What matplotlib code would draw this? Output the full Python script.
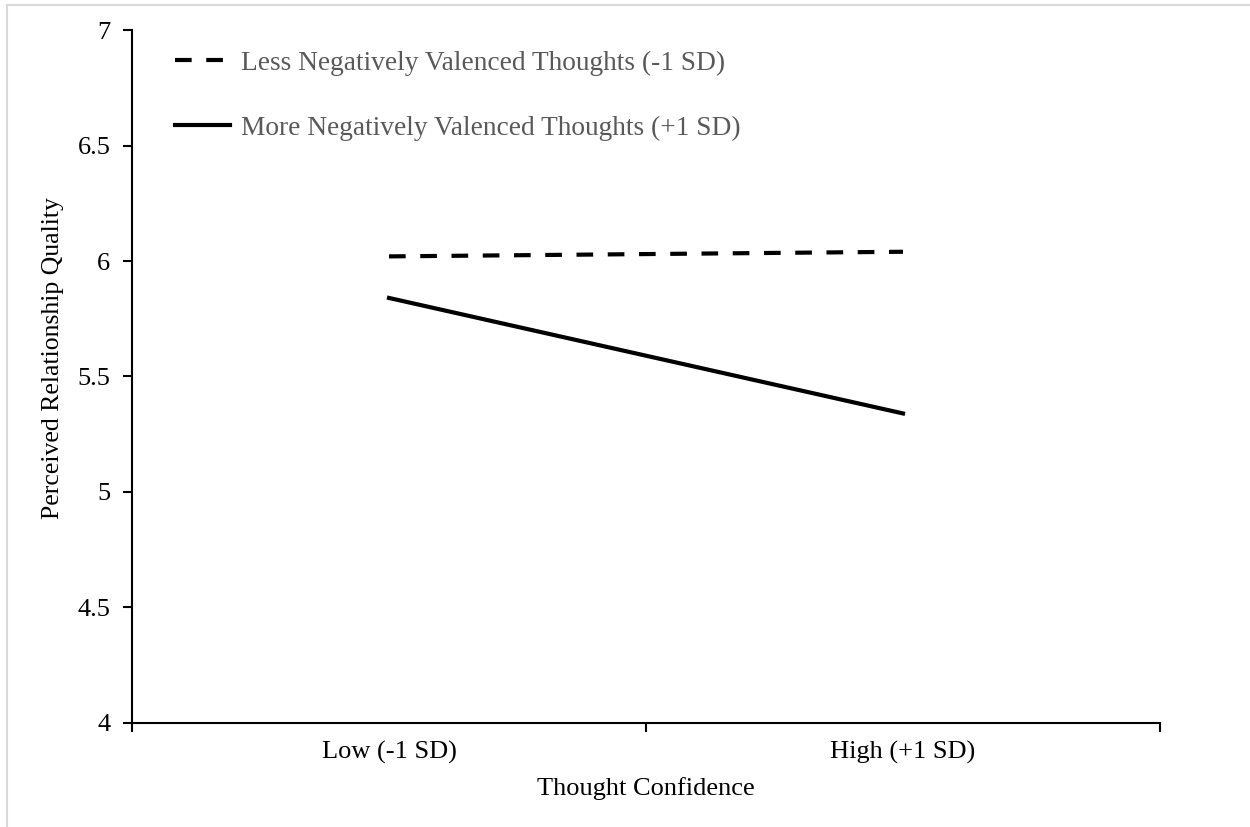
import numpy as np
import matplotlib.pyplot as plt
from matplotlib.lines import Line2D

plt.rcParams['font.family'] = ['Liberation Serif', 'DejaVu Serif']

# data
categories = ["Low (-1 SD)", "High (+1 SD)"]
less_negative = [6.02, 6.04]
more_negative = [5.84, 5.34]
series_labels = ["Less Negatively Valenced Thoughts (-1 SD)",
                 "More Negatively Valenced Thoughts (+1 SD)"]
y_ticks = [4, 4.5, 5, 5.5, 6, 6.5, 7]
y_ticklabels = ["4", "4.5", "5", "5.5", "6", "6.5", "7"]

fig = plt.figure(figsize=(12.5, 8.27), dpi=100)
ax = fig.add_axes([0.1056, 0.1258, 0.8224, 0.8379])

xpos = np.arange(len(categories)) + 0.5
ax.plot(xpos, less_negative, color="black", lw=3, linestyle=(0, (4, 3.5)),
        label=series_labels[0])
ax.plot(xpos, more_negative, color="black", lw=3, linestyle="-",
        label=series_labels[1])

ax.set_xlim(0, len(categories))
ax.set_ylim(4, 7)
ax.set_yticks(y_ticks)
ax.set_yticklabels(y_ticklabels)
ax.set_xticks(np.arange(len(categories) + 1))
ax.set_xticklabels([])
ax.set_xticks(xpos, minor=True)
ax.set_xticklabels(categories, minor=True)

ax.tick_params(axis="both", which="major", direction="out", length=6.5,
               width=1.5, labelsize=19, pad=9)
ax.tick_params(axis="x", which="minor", length=0, labelsize=19, pad=13)

for side in ["top", "right"]:
    ax.spines[side].set_visible(False)
for side in ["left", "bottom"]:
    ax.spines[side].set_linewidth(1.5)

ax.set_xlabel("Thought Confidence", fontsize=19, labelpad=9.5)
ax.set_ylabel("Perceived Relationship Quality", fontsize=18.5)
ax.yaxis.set_label_coords(-0.066, 0.527)

leg = ax.legend(loc="upper left", bbox_to_anchor=(0.042, 0.970),
                frameon=False, fontsize=19.7, handlelength=2.0,
                handletextpad=0.4, labelspacing=1.45, borderpad=0,
                borderaxespad=0, labelcolor="#595959")

# light frame on the left and top edge of the picture
fig.add_artist(Line2D([0.0058, 0.0058], [0, 0.994], transform=fig.transFigure,
                      color="#d9d9d9", lw=1.5))
fig.add_artist(Line2D([0.0058, 1], [0.994, 0.994], transform=fig.transFigure,
                      color="#d9d9d9", lw=1.5))

fig.savefig("out.png", dpi=100)
